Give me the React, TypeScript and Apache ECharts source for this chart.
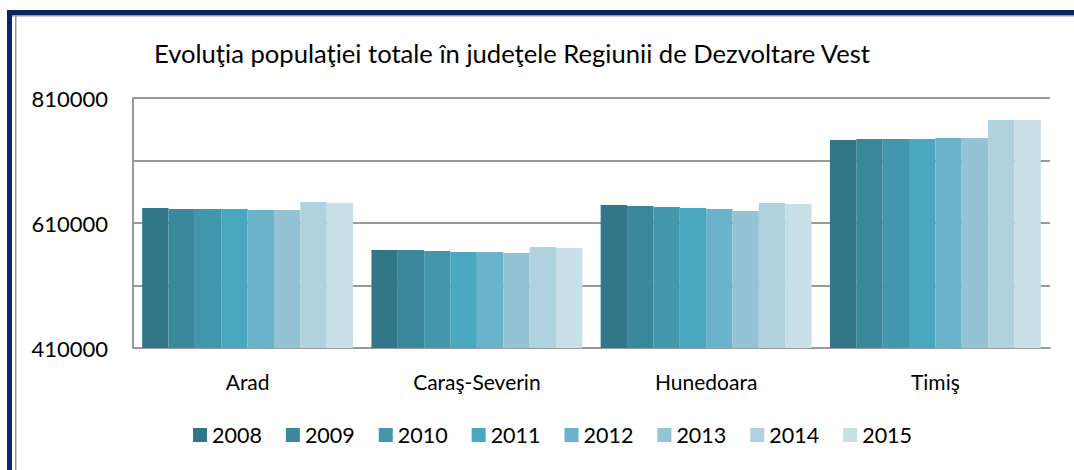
import React, { useEffect, useRef } from "react";
import * as echarts from "echarts";

const categories = ["Arad", "Caraş-Severin", "Hunedoara", "Timiş"];
const years = ["2008", "2009", "2010", "2011", "2012", "2013", "2014", "2015"];
// values per year, ordered by categories
const v2008 = [634000, 566800, 638800, 742800];
const v2009 = [632400, 566800, 637200, 744400];
const v2010 = [632400, 565200, 635600, 744400];
const v2011 = [632400, 563600, 634000, 744400];
const v2012 = [630800, 563600, 632400, 746000];
const v2013 = [630800, 562000, 629200, 746000];
const v2014 = [643600, 571600, 642000, 774800];
const v2015 = [642000, 570000, 640400, 774800];
const seriesValues = [v2008, v2009, v2010, v2011, v2012, v2013, v2014, v2015];
const colors = ["#327789", "#3a889c", "#4397ad", "#4aa7c0", "#69b4cb", "#93c3d4", "#afd2de", "#c8dfe6"];
const yLabels = [410000, 610000, 810000];
const title = "Evoluţia populaţiei totale în judeţele Regiunii de Dezvoltare Vest";

const FONT = "Lato";

export default function App() {
  const ref = useRef<HTMLDivElement>(null);
  useEffect(() => {
    document.body.style.margin = "0";
    if (!ref.current) return;
    const chart = echarts.init(ref.current, null, { renderer: "svg" });
    chart.setOption({
      animation: false,
      backgroundColor: "#ffffff",
      color: colors,
      textStyle: { fontFamily: FONT },
      title: {
        text: title,
        left: 154,
        top: 40,
        padding: 0,
        textStyle: { fontFamily: FONT, fontSize: 25.6, fontWeight: "normal", color: "#000" },
      },
      legend: {
        data: years,
        left: 193,
        top: 424,
        padding: 0,
        itemWidth: 14,
        itemHeight: 14,
        itemGap: 24,
        icon: "rect",
        textStyle: { fontFamily: FONT, fontSize: 21.5, color: "#000" },
      },
      grid: { left: 133, top: 98, right: 24, bottom: 122, containLabel: false },
      xAxis: {
        type: "category",
        data: categories,
        axisLine: { show: true, lineStyle: { color: "#9a9a9a", width: 2 } },
        axisTick: { show: false },
        axisLabel: { margin: 23, fontSize: 21, color: "#000", fontFamily: FONT },
      },
      yAxis: {
        type: "value",
        min: 410000,
        max: 810000,
        interval: 100000,
        axisLine: { show: true, lineStyle: { color: "#9a9a9a", width: 2 } },
        axisTick: { show: false },
        splitLine: { show: true, lineStyle: { color: "#9a9a9a", width: 2 } },
        axisLabel: {
          margin: 25,
          fontSize: 22,
          color: "#000",
          fontFamily: FONT,
          formatter: (v: number) => (yLabels.includes(v) ? String(v) : ""),
        },
      },
      series: years.map((y, i) => ({
        name: y,
        type: "bar",
        data: seriesValues[i],
        barGap: "0%",
        barCategoryGap: "8%",
        itemStyle: { color: colors[i] },
      })),
      graphic: [
        { type: "rect", shape: { x: 7, y: 10, width: 1067, height: 5 }, style: { fill: "#0b2466" } },
        { type: "rect", shape: { x: 7, y: 10, width: 5, height: 460 }, style: { fill: "#0b2466" } },
        { type: "rect", shape: { x: 12, y: 15, width: 1062, height: 1.5 }, style: { fill: "#9a9a9a" } },
        { type: "rect", shape: { x: 15, y: 15, width: 1.5, height: 455 }, style: { fill: "#9a9a9a" } },
      ],
    });
    return () => chart.dispose();
  }, []);
  return <div ref={ref} style={{ width: 1074, height: 470 }} />;
}
